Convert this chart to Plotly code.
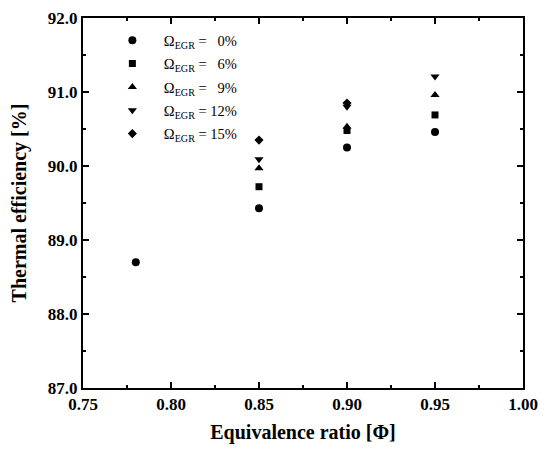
import plotly.graph_objects as go

phi_0 = [0.78, 0.85, 0.90, 0.95]
eff_0 = [88.70, 89.43, 90.25, 90.46]
phi_6 = [0.85, 0.90, 0.95]
eff_6 = [89.72, 90.48, 90.69]
phi_9 = [0.85, 0.90, 0.95]
eff_9 = [89.97, 90.53, 90.96]
phi_12 = [0.85, 0.90, 0.95]
eff_12 = [90.09, 90.80, 91.21]
phi_15 = [0.85, 0.90]
eff_15 = [90.35, 90.85]

series = [
    ("Ω<sub>EGR</sub> = \u20070%", phi_0, eff_0, "circle", 8),
    ("Ω<sub>EGR</sub> = \u20076%", phi_6, eff_6, "square", 7),
    ("Ω<sub>EGR</sub> = \u20079%", phi_9, eff_9, "triangle-up", 8),
    ("Ω<sub>EGR</sub> = 12%", phi_12, eff_12, "triangle-down", 8),
    ("Ω<sub>EGR</sub> = 15%", phi_15, eff_15, "diamond", 7),
]

fig = go.Figure()
for i, (name, x, y, sym, sz) in enumerate(series):
    fig.add_trace(go.Scatter(x=x, y=y, mode="markers", name=name, legendgroup=f"g{i}",
                             marker=dict(symbol=sym, size=sz, color="black")))

font_family = "Liberation Serif, Times New Roman, serif"
axis_common = dict(
    showline=True, linewidth=2, linecolor="black", mirror="ticks",
    ticks="inside", ticklen=6, tickwidth=2, tickcolor="black",
    showgrid=False, zeroline=False, automargin=False, ticklabeloverflow="allow",
    tickfont=dict(family=font_family, size=17, color="black", weight="bold"),
    minor=dict(ticks="inside", ticklen=3, tickwidth=2, tickcolor="black"),
)

fig.update_xaxes(range=[0.75, 1.00], tickvals=[0.75, 0.80, 0.85, 0.90, 0.95, 1.00],
                 tickformat=".2f",
                 title=dict(text="Equivalence ratio [Φ]", standoff=12,
                            font=dict(family=font_family, size=20, color="black", weight="bold")),
                 **axis_common)
fig.update_xaxes(minor=dict(dtick=0.025, tick0=0.75))
fig.update_yaxes(range=[87.0, 92.0], tickvals=[87, 88, 89, 90, 91, 92],
                 tickformat=".1f",
                 title=dict(text="Thermal efficiency [%]", standoff=17,
                            font=dict(family=font_family, size=20, color="black", weight="bold")),
                 **axis_common)
fig.update_yaxes(minor=dict(dtick=0.5, tick0=87))

# page body has an 8px margin; size the figure so the plot area lands where the reference has it
fig.update_layout(
    width=531, height=436,
    margin=dict(l=75, r=16, t=10, b=56),
    plot_bgcolor="white", paper_bgcolor="white",
    showlegend=True,
    legend=dict(x=0.0406, y=0.983, xanchor="left", yanchor="top",
                bgcolor="rgba(0,0,0,0)", borderwidth=0,
                font=dict(family=font_family, size=14.5, color="black"),
                itemwidth=53, tracegroupgap=1.5),
)

fig.write_html("out.html")
